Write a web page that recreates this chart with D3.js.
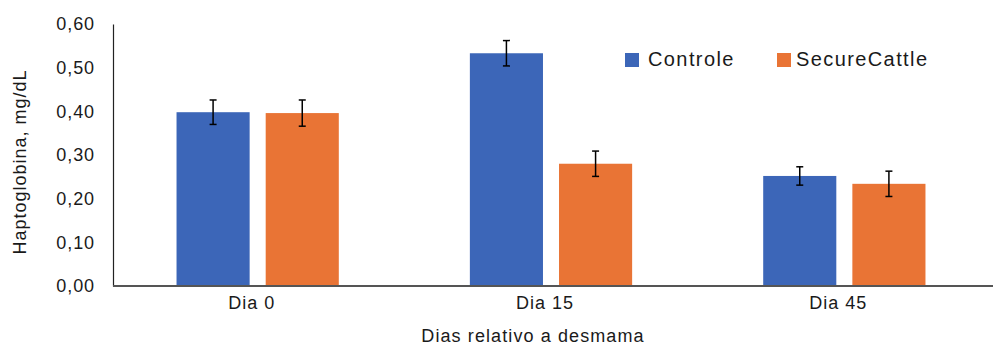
<!DOCTYPE html>
<html>
<head>
<meta charset="utf-8">
<script src="https://cdn.jsdelivr.net/npm/d3@7"></script>
<style>
  body { margin: 0; background: #fff; }
  text { font-family: "Liberation Sans", Arial, sans-serif; fill: #1a1a1a; }
</style>
</head>
<body>
<script>
var days = ["Dia 0", "Dia 15", "Dia 45"],
    groups = ["Controle", "SecureCattle"];

var controle = [0.398, 0.533, 0.252],
    secureCattle = [0.396, 0.280, 0.234];

var controleErr = [0.028, 0.029, 0.021],
    secureErr = [0.030, 0.029, 0.029];

var yTicks = [0, 0.1, 0.2, 0.3, 0.4, 0.5, 0.6];

var colors = ["#3c66b8", "#e97435"];

var W = 994, H = 345;

var values = [controle, secureCattle],
    errs = [controleErr, secureErr];

var svg = d3.select("body").append("svg")
    .attr("width", W)
    .attr("height", H);

var x0 = d3.scaleBand().domain(days).range([111, 991]),
    x1 = d3.scaleBand().domain(groups).range([0, x0.bandwidth()])
      .paddingInner(0.18).paddingOuter(0.735),
    y = d3.scaleLinear().domain([0, 0.6]).range([286, 24]);

// bars
groups.forEach(function(gname, gi) {
  svg.append("g")
    .selectAll("rect")
      .data(days)
    .enter().append("rect")
      .attr("x", function(d) { return x0(d) + x1(gname); })
      .attr("y", function(d, i) { return y(values[gi][i]); })
      .attr("width", x1.bandwidth())
      .attr("height", function(d, i) { return y(0) - y(values[gi][i]); })
      .attr("fill", colors[gi]);
});

// error bars
groups.forEach(function(gname, gi) {
  var g = svg.append("g").attr("stroke", "#000").attr("stroke-width", 1.5);
  days.forEach(function(d, i) {
    var cx = x0(d) + x1(gname) + x1.bandwidth() / 2,
        hi = y(values[gi][i] + errs[gi][i]),
        lo = y(values[gi][i] - errs[gi][i]);
    g.append("line").attr("x1", cx).attr("x2", cx).attr("y1", hi).attr("y2", lo);
    g.append("line").attr("x1", cx - 3.5).attr("x2", cx + 3.5).attr("y1", hi).attr("y2", hi);
    g.append("line").attr("x1", cx - 3.5).attr("x2", cx + 3.5).attr("y1", lo).attr("y2", lo);
  });
});

// y axis
var yAxis = svg.append("g")
    .attr("transform", "translate(113,0)")
    .call(d3.axisLeft(y).tickValues(yTicks).tickSize(0).tickPadding(18)
      .tickFormat(function(d) { return d3.format(".2f")(d).replace(".", ","); }));
yAxis.select(".domain").attr("stroke", "#222").attr("stroke-width", 1.2);
yAxis.selectAll("text")
    .style("font-size", "18px")
    .style("letter-spacing", "0.9px")
    .attr("fill", "#1a1a1a");

// x axis
var xAxis = svg.append("g")
    .attr("transform", "translate(0,286)")
    .call(d3.axisBottom(x0).tickSize(0).tickPadding(10));
xAxis.select(".domain").attr("stroke", "#555").attr("stroke-width", 2)
    .attr("d", "M113,0H993");
xAxis.selectAll("text")
    .attr("x", -6)
    .style("font-size", "18px")
    .style("letter-spacing", "1px")
    .attr("fill", "#1a1a1a");

// axis titles
svg.append("text")
    .attr("x", 533)
    .attr("y", 342)
    .attr("text-anchor", "middle")
    .style("font-size", "18px")
    .style("letter-spacing", "1.1px")
    .text("Dias relativo a desmama");

svg.append("text")
    .attr("transform", "translate(26,162) rotate(-90)")
    .attr("text-anchor", "middle")
    .style("font-size", "18px")
    .style("letter-spacing", "1px")
    .text("Haptoglobina, mg/dL");

// legend
var legendX = [625, 777];
groups.forEach(function(gname, gi) {
  svg.append("rect")
    .attr("x", legendX[gi]).attr("y", 53)
    .attr("width", 14).attr("height", 14)
    .attr("fill", colors[gi]);
  svg.append("text")
    .attr("x", legendX[gi] + (gi ? 19 : 23))
    .attr("y", 66)
    .style("font-size", "20px")
    .style("letter-spacing", "1.4px")
    .text(gname);
});
</script>
</body>
</html>
